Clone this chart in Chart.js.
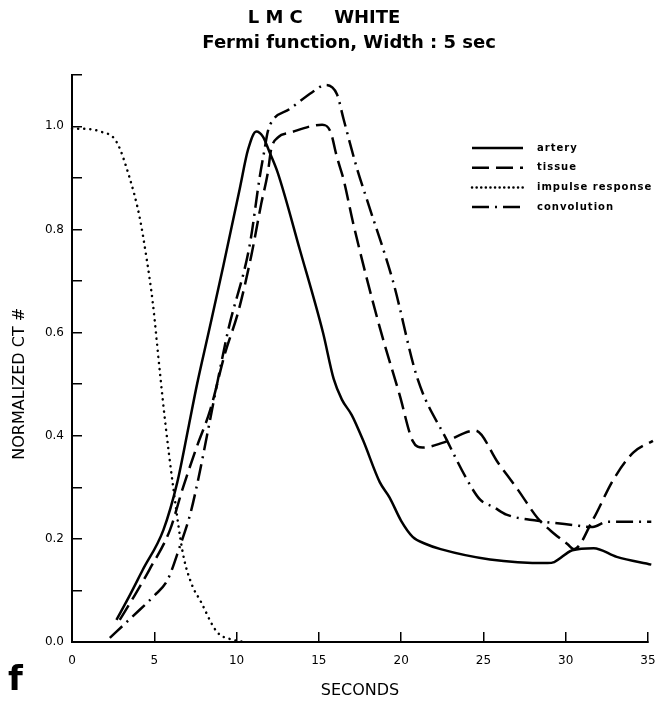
<!DOCTYPE html>
<html>
<head>
<meta charset="utf-8">
<script src="https://cdn.jsdelivr.net/npm/chart.js@4"></script>
<style>
  html, body { margin: 0; padding: 0; background: #fff; }
</style>
</head>
<body>
<canvas id="fermiChart" width="663" height="702"></canvas>
<script>
// values: time in seconds, normalized CT #
const arteryT = [2.7, 3.5, 4.3, 5.55, 6.4, 7.1, 7.6, 8.3, 9.2, 10.2, 10.7, 11.2, 11.6, 12.0, 12.5, 13.85, 15.25, 15.9, 16.4, 17.0, 17.7, 18.7, 19.3, 20.0, 20.7, 21.5, 22.4, 25.4, 28.9, 29.3, 30.4, 31.7, 33.1, 35.2];
const arteryV = [0.043, 0.09, 0.14, 0.217, 0.31, 0.42, 0.50, 0.60, 0.73, 0.88, 0.955, 0.99, 0.98, 0.95, 0.91, 0.76, 0.60, 0.51, 0.47, 0.44, 0.39, 0.31, 0.28, 0.235, 0.204, 0.19, 0.18, 0.16, 0.153, 0.155, 0.178, 0.182, 0.165, 0.15];

const tissueT = [2.9, 3.8, 4.7, 5.95, 6.75, 7.6, 8.4, 9.3, 10.1, 10.9, 11.5, 11.9, 12.1, 12.5, 13.3, 15.2, 15.7, 16.1, 16.5, 17.1, 18.7, 19.9, 20.7, 21.3, 22.5, 24.5, 25.9, 27.1, 28.3, 29.3, 30.1, 30.5, 31.65, 32.9, 34.1, 35.3];
const tissueV = [0.043, 0.09, 0.14, 0.217, 0.30, 0.38, 0.45, 0.56, 0.64, 0.75, 0.85, 0.91, 0.955, 0.978, 0.988, 1.003, 0.99, 0.94, 0.897, 0.81, 0.61, 0.48, 0.39, 0.377, 0.386, 0.41, 0.347, 0.295, 0.24, 0.21, 0.19, 0.18, 0.237, 0.315, 0.367, 0.39];

const impulseT = [0, 0.6, 1.7, 2.7, 3.5, 4.1, 4.55, 4.9, 5.35, 5.65, 6.15, 6.75, 7.3, 7.8, 8.8, 9.8, 10.5];
const impulseV = [0.995, 0.995, 0.99, 0.97, 0.90, 0.825, 0.74, 0.66, 0.52, 0.43, 0.30, 0.17, 0.11, 0.08, 0.02, 0.004, 0.0];

const convT = [2.3, 3.2, 4.1, 5.0, 5.8, 6.55, 7.2, 7.7, 8.2, 9.0, 9.5, 10.8, 11.4, 11.7, 11.9, 12.2, 13.2, 14.6, 15.4, 16.1, 16.5, 17.3, 18.0, 19.5, 21.0, 22.8, 24.0, 24.8, 25.6, 26.4, 28.3, 30.4, 31.65, 32.5, 35.2];
const convV = [0.008, 0.035, 0.062, 0.09, 0.12, 0.185, 0.25, 0.32, 0.40, 0.53, 0.606, 0.77, 0.90, 0.955, 0.99, 1.012, 1.033, 1.066, 1.08, 1.062, 1.014, 0.92, 0.85, 0.70, 0.51, 0.39, 0.315, 0.276, 0.262, 0.247, 0.235, 0.227, 0.223, 0.233, 0.233];

const seriesLabels = ['artery', 'tissue', 'impulse response', 'convolution'];
const titleLines = ['L M C     WHITE', '        Fermi function, Width : 5 sec'];

const toPoints = (t, v) => t.map((x, i) => ({ x: x, y: v[i] }));

const FONT = '"DejaVu Sans", sans-serif';

// legend drawn inside the plot, upper right, like the original figure
const innerLegend = {
  id: 'innerLegend',
  afterDraw(chart) {
    const ctx = chart.ctx;
    const x0 = chart.chartArea.right - 176;
    const y0 = 148;
    ctx.save();
    chart.data.datasets.forEach((ds, i) => {
      const y = y0 + i * 19.7;
      ctx.beginPath();
      ctx.setLineDash(ds.legendDash || ds.borderDash || []);
      ctx.lineWidth = 2.5;
      ctx.lineCap = ds.borderCapStyle || 'butt';
      ctx.strokeStyle = '#000';
      ctx.moveTo(x0, y);
      ctx.lineTo(x0 + 51, y);
      ctx.stroke();
      ctx.setLineDash([]);
      ctx.fillStyle = '#000';
      ctx.font = 'bold 10px ' + FONT;
      ctx.letterSpacing = '1px';
      ctx.textBaseline = 'middle';
      ctx.textAlign = 'left';
      ctx.fillText(ds.label, x0 + 65, y);
    });
    // panel letter
    ctx.letterSpacing = '0px';
    ctx.font = 'bold 34px ' + FONT;
    ctx.textBaseline = 'alphabetic';
    ctx.fillText('f', 8, 690);
    ctx.restore();
  }
};

const ctx = document.getElementById('fermiChart').getContext('2d');

new Chart(ctx, {
  type: 'line',
  data: {
    datasets: [
      { label: seriesLabels[0], data: toPoints(arteryT, arteryV), borderDash: [] },
      { label: seriesLabels[1], data: toPoints(tissueT, tissueV), borderDash: [17, 7] },
      { label: seriesLabels[2], data: toPoints(impulseT, impulseV), borderDash: [0.1, 6], borderCapStyle: 'round', legendDash: [0.1, 4.5] },
      { label: seriesLabels[3], data: toPoints(convT, convV), borderDash: [17, 6, 2, 6] }
    ]
  },
  options: {
    responsive: false,
    animation: false,
    events: [],
    clip: false,
    elements: {
      point: { radius: 0 },
      line: { borderColor: '#000', borderWidth: 2.5, cubicInterpolationMode: 'monotone', fill: false }
    },
    layout: { padding: { left: 0, right: 15, top: 0, bottom: 0 } },
    plugins: {
      legend: { display: false },
      tooltip: { enabled: false },
      title: {
        display: true,
        text: titleLines,
        color: '#000',
        font: { family: FONT, size: 18, weight: 'bold', lineHeight: 1.38 },
        padding: { top: 6, bottom: 19 }
      }
    },
    scales: {
      x: {
        type: 'linear',
        min: 0,
        max: 35,
        ticks: { stepSize: 5, color: '#000', padding: 22, font: { family: FONT, size: 12 }, maxRotation: 0 },
        grid: { drawOnChartArea: false, tickLength: -10, color: '#000', lineWidth: 1.5 },
        border: { color: '#000', width: 2 },
        title: { display: true, text: 'SECONDS', color: '#000', font: { family: FONT, size: 16 }, padding: { top: 0, bottom: 2 } },
        afterFit(scale) {
          scale.height = 60;
          scale.paddingLeft = 0;
          scale.paddingRight = 0;
        }
      },
      y: {
        min: 0,
        max: 1.1,
        ticks: {
          stepSize: 0.1,
          autoSkip: false,
          color: '#000',
          padding: 18,
          font: { family: FONT, size: 12 },
          callback: v => (Math.round(v * 10) % 2 === 0 ? v.toFixed(1) : '')
        },
        grid: { drawOnChartArea: false, tickLength: -10, color: '#000', lineWidth: 1.5 },
        border: { color: '#000', width: 2 },
        title: { display: true, text: 'NORMALIZED CT #          ', color: '#000', font: { family: FONT, size: 16 }, padding: { top: 10, bottom: 0 } },
        afterFit(scale) { scale.width = 72; }
      }
    }
  },
  plugins: [innerLegend]
});
</script>
</body>
</html>
